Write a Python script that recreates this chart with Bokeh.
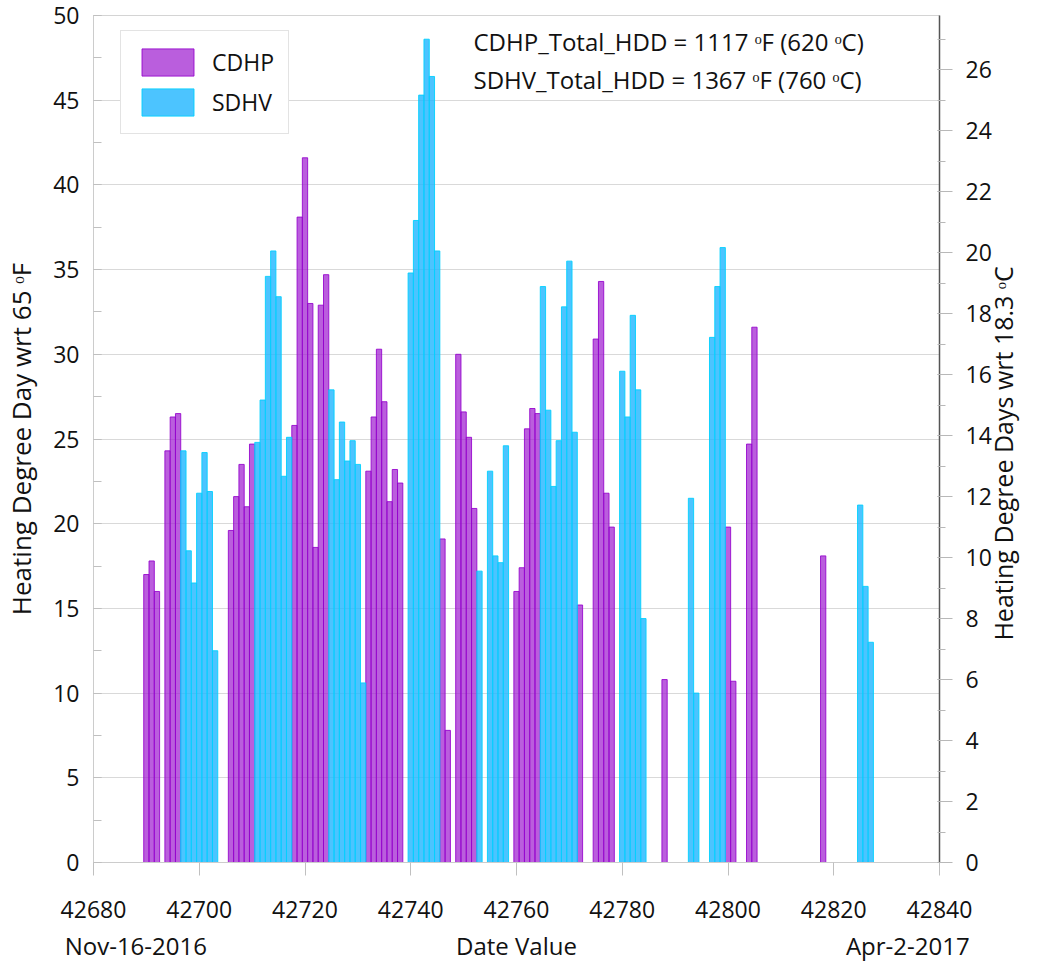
import math

from bokeh.embed import file_html
from bokeh.resources import INLINE
from bokeh.plotting import figure
from bokeh.models import (ColumnDataSource, Range1d, LinearAxis, SingleIntervalTicker,
                          FixedTicker, Legend, LegendItem, Label, BasicTickFormatter)

# Daily heating degree days (deg F base 65) by Excel date value
cdhp_dates = [42690, 42691, 42692, 42694, 42695, 42696,
              42706, 42707, 42708, 42709, 42710,
              42718, 42719, 42720, 42721, 42722, 42723, 42724,
              42732, 42733, 42734, 42735, 42736, 42737, 42738,
              42746, 42747, 42749, 42750, 42751, 42752,
              42760, 42761, 42762, 42763, 42764, 42772,
              42775, 42776, 42777, 42778, 42788,
              42800, 42801, 42804, 42805, 42818]
cdhp_hdd = [17.0, 17.8, 16.0, 24.3, 26.3, 26.5,
            19.6, 21.6, 23.5, 21.0, 24.7,
            25.8, 38.1, 41.6, 33.0, 18.6, 32.9, 34.7,
            23.1, 26.3, 30.3, 27.2, 21.3, 23.2, 22.4,
            19.1, 7.8, 30.0, 26.6, 25.1, 20.9,
            16.0, 17.4, 25.6, 26.8, 26.5, 15.2,
            30.9, 34.3, 21.8, 19.8, 10.8,
            19.8, 10.7, 24.7, 31.6, 18.1]

sdhv_dates = [42697, 42698, 42699, 42700, 42701, 42702, 42703,
              42711, 42712, 42713, 42714, 42715, 42716, 42717,
              42725, 42726, 42727, 42728, 42729, 42730, 42731,
              42740, 42741, 42742, 42743, 42744, 42745,
              42753, 42755, 42756, 42757, 42758,
              42765, 42766, 42767, 42768, 42769, 42770, 42771,
              42780, 42781, 42782, 42783, 42784,
              42793, 42794, 42797, 42798, 42799,
              42825, 42826, 42827]
sdhv_hdd = [24.3, 18.4, 16.5, 21.8, 24.2, 21.9, 12.5,
            24.8, 27.3, 34.6, 36.1, 33.4, 22.8, 25.1,
            27.9, 22.6, 26.0, 23.7, 24.9, 23.5, 10.6,
            34.8, 37.9, 45.3, 48.6, 46.4, 36.1,
            17.2, 23.1, 18.1, 17.7, 24.6,
            34.0, 26.7, 22.2, 24.9, 32.8, 35.5, 25.4,
            29.0, 26.3, 32.3, 27.9, 14.4,
            21.5, 10.0, 31.0, 34.0, 36.3,
            21.1, 16.3, 13.0]

series_names = ["CDHP", "SDHV"]
summary_lines = ["CDHP_Total_HDD = 1117 \u1d52F (620 \u1d52C)",
                 "SDHV_Total_HDD = 1367 \u1d52F (760 \u1d52C)"]
left_title = "Heating Degree Day wrt 65 \u1d52F"
right_title = "Heating Degree Days wrt 18.3 \u1d52C"
bottom_title = "Date Value"
start_date_text = "Nov-16-2016"
end_date_text = "Apr-2-2017"

FONT = "Open Sans"
TEXT = "#111111"
X_MIN, X_MAX = 42680, 42840
Y_MAX_F = 50
# rotated right-hand title starts at this deg F level and runs upward
RIGHT_TITLE_START = 13.1

p = figure(width=1040, height=964, output_backend="svg", toolbar_location=None,
           x_range=Range1d(X_MIN, X_MAX), y_range=Range1d(0, Y_MAX_F),
           min_border_left=90, min_border_right=100, min_border_top=15,
           min_border_bottom=100)
p.outline_line_color = "#d4d4d4"
p.background_fill_color = "white"
p.border_fill_color = "white"

cdhp_src = ColumnDataSource(dict(x=cdhp_dates, top=cdhp_hdd))
sdhv_src = ColumnDataSource(dict(x=sdhv_dates, top=sdhv_hdd))

r_cdhp = p.vbar(x="x", top="top", width=1, source=cdhp_src,
                fill_color="#a020d0", fill_alpha=0.72,
                line_color="#9400cc", line_alpha=0.85, line_width=1)
r_sdhv = p.vbar(x="x", top="top", width=1, source=sdhv_src,
                fill_color="#1fb5ff", fill_alpha=0.8,
                line_color="#00d0ff", line_alpha=0.9, line_width=1)

# grid
p.xgrid.visible = False
p.ygrid.grid_line_color = "#d9d9d9"
p.ygrid.grid_line_width = 1


def hide_axis_marks(axis):
    axis.axis_line_color = None
    axis.major_tick_line_color = None
    axis.minor_tick_line_color = None
    axis.major_tick_out = 0
    axis.major_tick_in = 0
    axis.minor_tick_out = 0
    axis.minor_tick_in = 0


# bottom axis
xa = p.xaxis[0]
xa.ticker = SingleIntervalTicker(interval=20, num_minor_ticks=0)
xa.formatter = BasicTickFormatter(use_scientific=False)
xa.axis_line_color = "#cccccc"
xa.major_tick_line_color = "#c0c0c0"
xa.major_tick_out = 13
xa.major_tick_in = 0
xa.minor_tick_line_color = None
xa.major_label_text_font = FONT
xa.major_label_text_font_size = "23px"
xa.major_label_text_color = TEXT
xa.major_label_standoff = 25

# caption row under the date axis: start date, axis title, end date
caption_ticks = [42688, 42760, 42834]
cap = LinearAxis(ticker=FixedTicker(ticks=caption_ticks),
                 major_label_overrides={caption_ticks[0]: start_date_text,
                                        caption_ticks[1]: bottom_title,
                                        caption_ticks[2]: end_date_text})
hide_axis_marks(cap)
cap.major_label_text_font = FONT
cap.major_label_text_font_size = "24px"
cap.major_label_text_color = TEXT
cap.major_label_standoff = 8
p.add_layout(cap, "below")

# left axis (deg F)
ya = p.yaxis[0]
ya.ticker = SingleIntervalTicker(interval=5, num_minor_ticks=2)
ya.axis_line_color = "#cccccc"
ya.major_tick_line_color = "#c0c0c0"
ya.major_tick_out = 0
ya.major_tick_in = 8
ya.minor_tick_line_color = "#c0c0c0"
ya.minor_tick_out = 0
ya.minor_tick_in = 8
ya.major_label_text_font = FONT
ya.major_label_text_font_size = "23px"
ya.major_label_text_color = TEXT
ya.major_label_standoff = 14
ya.axis_label = left_title
ya.axis_label_text_font = FONT
ya.axis_label_text_font_size = "26px"
ya.axis_label_text_font_style = "normal"
ya.axis_label_text_color = TEXT
ya.axis_label_standoff = 11

# right axis (deg C)
p.extra_y_ranges = {"degc": Range1d(0, Y_MAX_F * 5 / 9)}
ra = LinearAxis(y_range_name="degc")
ra.ticker = SingleIntervalTicker(interval=2, num_minor_ticks=2)
ra.axis_line_color = "#555555"
ra.axis_line_width = 1.5
ra.major_tick_line_color = "#b8b8b8"
ra.major_tick_out = 13
ra.major_tick_in = 2
ra.minor_tick_line_color = "#b8b8b8"
ra.minor_tick_out = 6
ra.minor_tick_in = 2
ra.major_label_text_font = FONT
ra.major_label_text_font_size = "23px"
ra.major_label_text_color = TEXT
ra.major_label_standoff = 13
p.add_layout(ra, "right")

# right-hand title, reading bottom to top
rt = LinearAxis(ticker=FixedTicker(ticks=[RIGHT_TITLE_START]),
                major_label_overrides={RIGHT_TITLE_START: right_title})
hide_axis_marks(rt)
rt.major_label_orientation = math.pi / 2
rt.major_label_text_font = FONT
rt.major_label_text_font_size = "25px"
rt.major_label_text_color = TEXT
rt.major_label_standoff = 9
p.add_layout(rt, "right")

# season totals
for i, line in enumerate(summary_lines):
    p.add_layout(Label(x=380, y=821 - 38 * i, x_units="screen", y_units="screen",
                       text=line, text_align="left", text_baseline="middle",
                       text_font=FONT, text_font_size="24px", text_color=TEXT))

legend = Legend(items=[LegendItem(label=series_names[0], renderers=[r_cdhp]),
                       LegendItem(label=series_names[1], renderers=[r_sdhv])],
                location=(27, 728))
legend.glyph_width = 65
legend.glyph_height = 34
legend.label_text_font = FONT
legend.label_text_font_size = "23px"
legend.label_text_color = TEXT
legend.label_standoff = 12
legend.padding = 14
legend.spacing = 6
legend.margin = 0
legend.border_line_color = "#c8c8c8"
legend.background_fill_color = "white"
legend.background_fill_alpha = 1.0
p.add_layout(legend, "center")

open("out.html", "w").write(file_html(p, INLINE))
